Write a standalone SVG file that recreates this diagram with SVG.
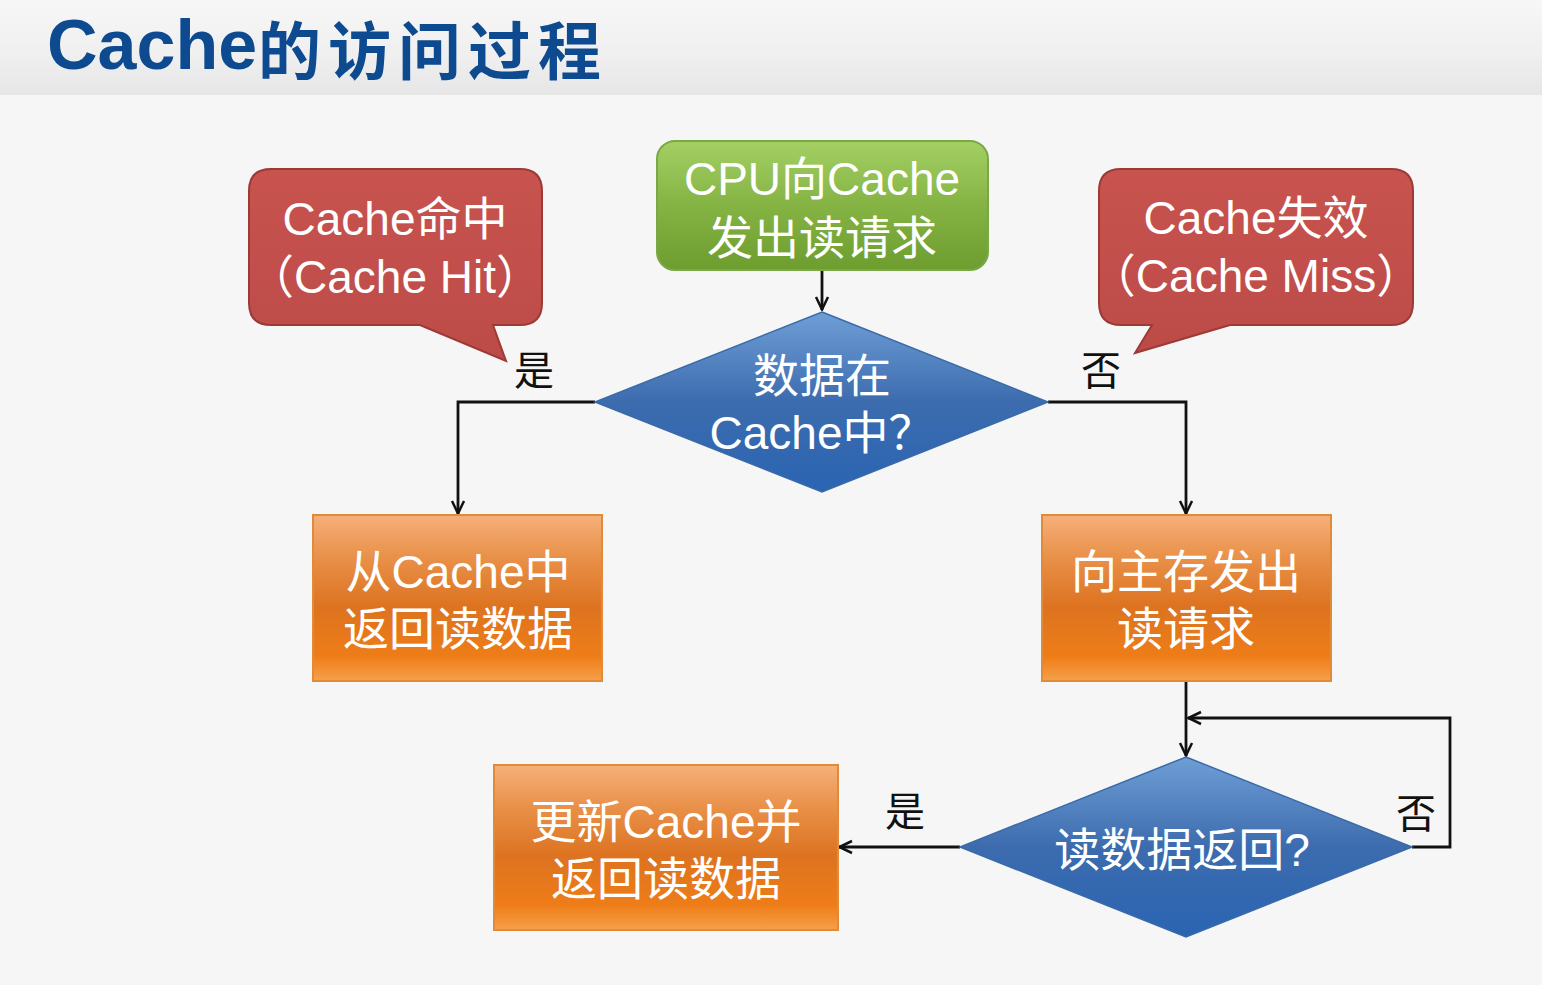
<svg xmlns="http://www.w3.org/2000/svg" width="1542" height="985" viewBox="0 0 1542 985">
<defs>
<linearGradient id="hdr" x1="0" y1="0" x2="0" y2="1"><stop offset="0" stop-color="#f7f7f7"/><stop offset="0.6" stop-color="#efefef"/><stop offset="1" stop-color="#e6e6e6"/></linearGradient>
<linearGradient id="green" x1="0" y1="0" x2="0" y2="1"><stop offset="0" stop-color="#a4d063"/><stop offset="0.45" stop-color="#87b647"/><stop offset="1" stop-color="#6e9d2f"/></linearGradient>
<linearGradient id="orange" x1="0" y1="0" x2="0" y2="1"><stop offset="0" stop-color="#f6b07a"/><stop offset="0.25" stop-color="#e9914a"/><stop offset="0.55" stop-color="#dd7320"/><stop offset="0.85" stop-color="#ee7d18"/><stop offset="1" stop-color="#f7a04a"/></linearGradient>
<linearGradient id="blue" x1="0" y1="0" x2="0" y2="1"><stop offset="0" stop-color="#6f9ed6"/><stop offset="0.5" stop-color="#3c6cae"/><stop offset="1" stop-color="#2a64b2"/></linearGradient>
<linearGradient id="red" x1="0" y1="0" x2="0" y2="1"><stop offset="0" stop-color="#c8534f"/><stop offset="1" stop-color="#bc4b47"/></linearGradient>
<marker id="arr" viewBox="0 0 16 16" refX="15" refY="8" markerWidth="16" markerHeight="16" markerUnits="userSpaceOnUse" orient="auto">
<path d="M2,2 L14.5,8 L2,14" fill="none" stroke="#111" stroke-width="2.5"/>
</marker>
<style>
.t{font-family:"Liberation Sans","Noto Sans CJK SC",sans-serif;font-size:46px;fill:#fff;text-anchor:middle}
.lbl{font-family:"Noto Sans CJK SC",sans-serif;font-size:40px;fill:#111;text-anchor:middle}
.conn{fill:none;stroke:#111;stroke-width:2.8}
.box{fill:url(#orange);stroke:#e08b3a;stroke-width:2}
.dia{fill:url(#blue);stroke:#3a6aa8;stroke-width:1.5}
.call{fill:url(#red);stroke:#9c3a37;stroke-width:2}
.title{fill:#0d4a8f;font-weight:bold}
</style>
</defs>
<rect width="1542" height="985" fill="#f6f6f6"/>
<rect width="1542" height="95" fill="url(#hdr)"/>
<g id="title">
<text class="title" x="47" y="69" font-family="Liberation Sans,sans-serif" font-size="70">Cache</text>
<text class="title" x="258" y="74" font-family="Noto Sans CJK SC,sans-serif" font-size="63" font-weight="900" letter-spacing="7">的访问过程</text>
</g>

<g id="connectors">
<path class="conn" d="M822,270 V310" marker-end="url(#arr)"/>
<path class="conn" d="M595,402 H458 V514" marker-end="url(#arr)"/>
<path class="conn" d="M1048,402 H1186 V514" marker-end="url(#arr)"/>
<path class="conn" d="M1186,681 V756" marker-end="url(#arr)"/>
<path class="conn" d="M1412,847 H1450 V718 H1188" marker-end="url(#arr)"/>
<path class="conn" d="M960,847 H839" marker-end="url(#arr)"/>
<text class="lbl" x="534" y="385">是</text>
<text class="lbl" x="1101" y="385">否</text>
<text class="lbl" x="1416" y="828">否</text>
<text class="lbl" x="905" y="826">是</text>
</g>

<g id="start">
<rect x="657" y="141" width="331" height="129" rx="18" fill="url(#green)" stroke="#7aa845" stroke-width="2"/>
<text class="t" x="822" y="195">CPU向Cache</text>
<text class="t" x="822" y="254">发出读请求</text>
</g>

<g id="hit-callout">
<path class="call" d="M271,169 H520 Q542,169 542,191 V303 Q542,325 520,325 H493 L506,361 L420,325 H271 Q249,325 249,303 V191 Q249,169 271,169 Z"/>
<text class="t" x="395" y="235">Cache命中</text>
<text class="t" x="395" y="293">（Cache Hit）</text>
</g>

<g id="miss-callout">
<path class="call" d="M1121,169 H1391 Q1413,169 1413,191 V303 Q1413,325 1391,325 H1230 L1135,353 L1152,325 H1121 Q1099,325 1099,303 V191 Q1099,169 1121,169 Z"/>
<text class="t" x="1256" y="234">Cache失效</text>
<text class="t" x="1256" y="292">（Cache Miss）</text>
</g>

<g id="decision1">
<polygon class="dia" points="822,312 1048,402 822,492 595,402"/>
<text class="t" x="822" y="392">数据在</text>
<text class="t" x="822" y="449">Cache中？</text>
</g>

<g id="read-cache">
<rect class="box" x="313" y="515" width="289" height="166"/>
<text class="t" x="458" y="588">从Cache中</text>
<text class="t" x="458" y="645">返回读数据</text>
</g>

<g id="request-memory">
<rect class="box" x="1042" y="515" width="289" height="166"/>
<text class="t" x="1186" y="588">向主存发出</text>
<text class="t" x="1186" y="645">读请求</text>
</g>

<g id="decision2">
<polygon class="dia" points="1186,757 1412,847 1186,937 960,847"/>
<text class="t" x="1182" y="866">读数据返回?</text>
</g>

<g id="update-cache">
<rect class="box" x="494" y="765" width="344" height="165"/>
<text class="t" x="666" y="838">更新Cache并</text>
<text class="t" x="666" y="895">返回读数据</text>
</g>
</svg>
